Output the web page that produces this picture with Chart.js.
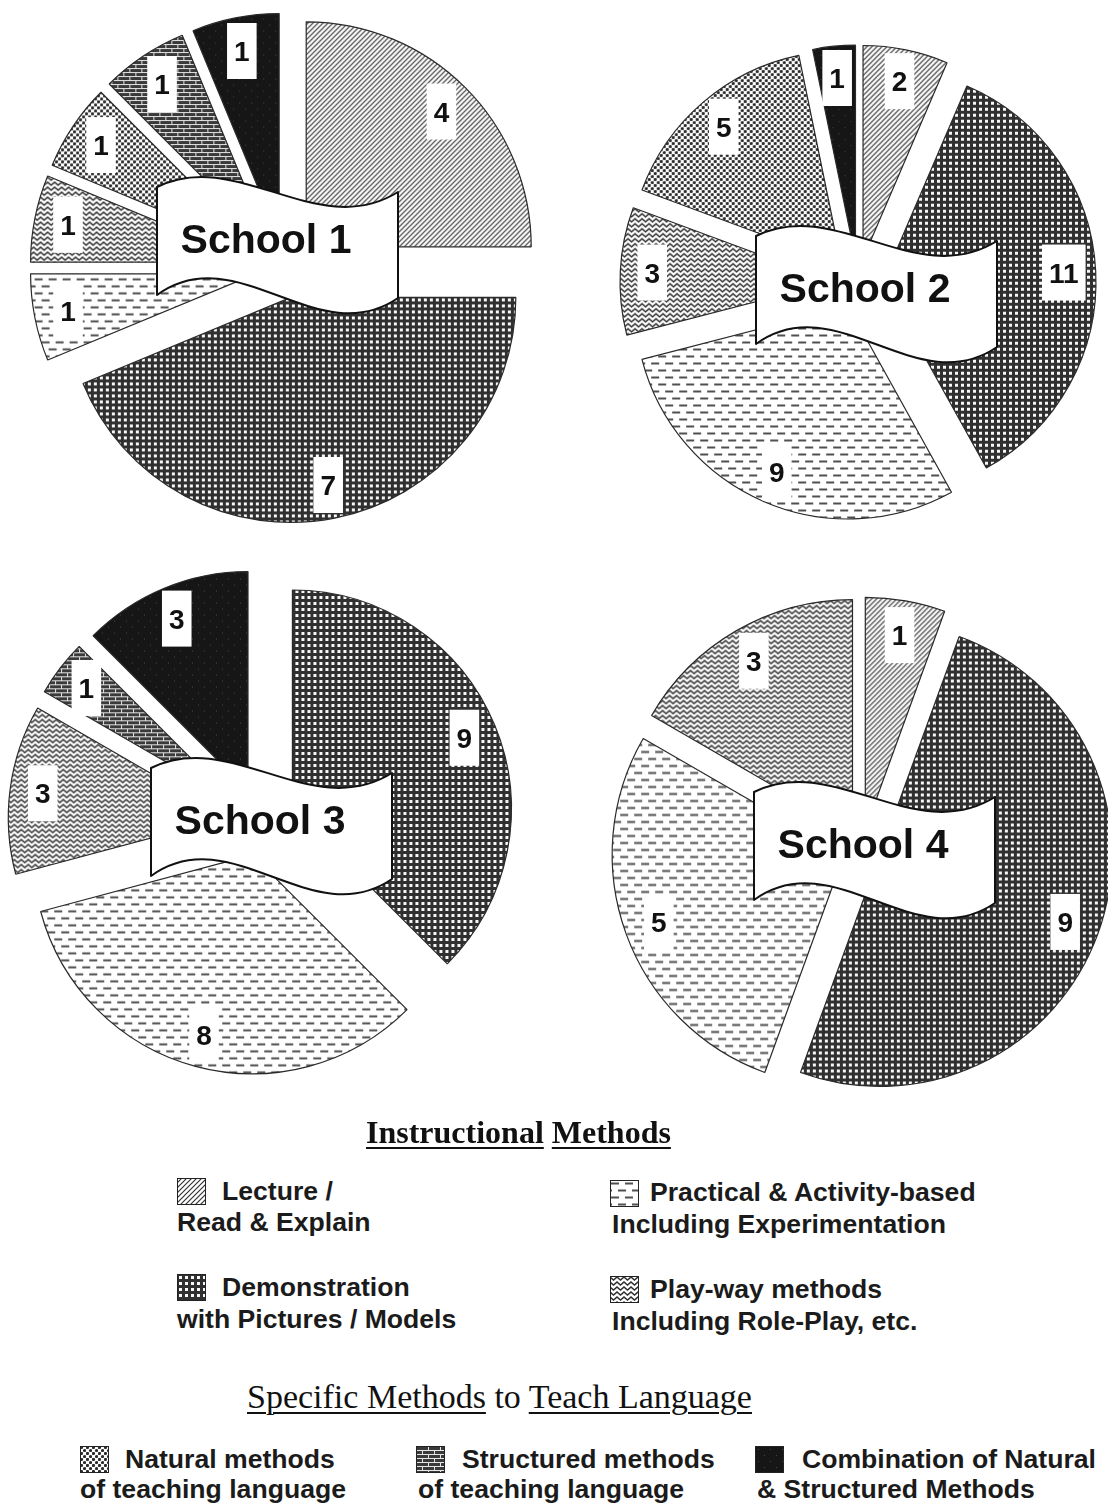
<!DOCTYPE html>
<html>
<head>
<meta charset="utf-8">
<title>Instructional Methods by School</title>
<script src="https://cdn.jsdelivr.net/npm/chart.js@4.4.1/dist/chart.umd.min.js"></script>
<style>
  html, body { margin: 0; padding: 0; background: #fff; }
  #page { position: relative; width: 1108px; height: 1505px; overflow: hidden; background: #fff; }
  canvas.pie { position: absolute; }
  .lg { position: absolute; white-space: nowrap; line-height: 26px; height: 26px;
        font-family: "Liberation Sans", Arial, sans-serif; font-weight: bold; font-size: 26.6px; color: #1b1b1b; }
  .sw { position: absolute; }
  .head { position: absolute; white-space: nowrap; font-family: "Liberation Serif", "Times New Roman", serif; color: #111; }
  .head u { text-decoration-thickness: 2px; text-underline-offset: 4px; }
</style>
</head>
<body>
<div id="page"></div>
<script>
// ---- data -------------------------------------------------------------
const methods = [
  'Lecture / Read & Explain',
  'Demonstration with Pictures / Models',
  'Practical & Activity-based Including Experimentation',
  'Play-way methods Including Role-Play, etc.',
  'Natural methods of teaching language',
  'Structured methods of teaching language',
  'Combination of Natural & Structured Methods'
];
const schools = ['School 1', 'School 2', 'School 3', 'School 4'];
const school1 = [4, 7, 1, 1, 1, 1, 1];
const school2 = [2, 11, 9, 3, 5, 0, 1];
const school3 = [0, 9, 8, 3, 0, 1, 3];
const school4 = [1, 9, 5, 3, 0, 0, 0];
const schoolValues = [school1, school2, school3, school4];

// ---- layout (page pixels) ---------------------------------------------
const pieLayout = [
  { cx: 285, cy: 268, r: 225, explode: 30, tx: 266, ty: 238 },
  { cx: 858, cy: 283, r: 213, explode: 25, tx: 865, ty: 287 },
  { cx: 261, cy: 822, r: 219, explode: 34, tx: 260, ty: 819 },
  { cx: 862, cy: 848, r: 232, explode: 19, tx: 863, ty: 843 }
];

// ---- fill patterns ----------------------------------------------------
function tile(w, h, paint) {
  const c = document.createElement('canvas');
  c.width = w; c.height = h;
  const g = c.getContext('2d');
  paint(g, w, h);
  return c;
}
const tiles = [
  // lecture: fine diagonal hatch
  tile(5, 5, (g, w, h) => {
    g.fillStyle = '#fff'; g.fillRect(0, 0, w, h);
    g.strokeStyle = '#333'; g.lineWidth = 1.2;
    g.beginPath();
    g.moveTo(-1, h + 1); g.lineTo(w + 1, -1);
    g.moveTo(-1, 1); g.lineTo(1, -1);
    g.moveTo(w - 1, h + 1); g.lineTo(w + 1, h - 1);
    g.stroke();
  }),
  // demonstration: dark grid with white cells
  tile(6, 6, (g, w, h) => {
    g.fillStyle = '#303030'; g.fillRect(0, 0, w, h);
    g.fillStyle = '#f8f8f8'; g.fillRect(2, 2, 3, 3);
  }),
  // practical: staggered horizontal dashes
  tile(14, 14, (g, w, h) => {
    g.fillStyle = '#fff'; g.fillRect(0, 0, w, h);
    g.strokeStyle = '#505050'; g.lineWidth = 2;
    g.beginPath();
    g.moveTo(1, 3.5); g.lineTo(9, 3.5);
    g.moveTo(8, 10.5); g.lineTo(16, 10.5);
    g.moveTo(-6, 10.5); g.lineTo(2, 10.5);
    g.stroke();
  }),
  // play-way: zigzag rows
  tile(7, 5, (g, w, h) => {
    g.fillStyle = '#fff'; g.fillRect(0, 0, w, h);
    g.strokeStyle = '#2e2e2e'; g.lineWidth = 1.35;
    g.beginPath();
    g.moveTo(-3.5, 4); g.lineTo(0, 1); g.lineTo(3.5, 4); g.lineTo(7, 1); g.lineTo(10.5, 4);
    g.stroke();
  }),
  // natural: stippled dots
  tile(6, 6, (g, w, h) => {
    g.fillStyle = '#fff'; g.fillRect(0, 0, w, h);
    g.fillStyle = '#2c2c2c';
    [[1.5, 1.5], [4.5, 4.5]].forEach(([x, y]) => {
      g.beginPath(); g.arc(x, y, 1.6, 0, Math.PI * 2); g.fill();
    });
  }),
  // structured: brick wall
  tile(12, 8, (g, w, h) => {
    g.fillStyle = '#3a3a3a'; g.fillRect(0, 0, w, h);
    g.strokeStyle = '#e6e6e6'; g.lineWidth = 1;
    g.beginPath();
    g.moveTo(0, 0.5); g.lineTo(w, 0.5);
    g.moveTo(0, 4.5); g.lineTo(w, 4.5);
    g.moveTo(0.5, 0.5); g.lineTo(0.5, 4.5);
    g.moveTo(6.5, 4.5); g.lineTo(6.5, 8);
    g.stroke();
  }),
  // combination: solid black with faint specks
  tile(12, 12, (g, w, h) => {
    g.fillStyle = '#161616'; g.fillRect(0, 0, w, h);
    g.fillStyle = '#464646';
    g.fillRect(3, 3, 1, 1); g.fillRect(9, 9, 1, 1);
  })
];
function patternsFor(ctx) {
  return tiles.map(t => ctx.createPattern(t, 'repeat'));
}

// ---- plugins ----------------------------------------------------------
// every slice is pulled out from the centre along its bisector
const explodePlugin = {
  id: 'explode',
  beforeDatasetDraw(chart, args, opts) {
    const ctx = chart.ctx;
    const d = opts.distance || 0;
    args.meta.data.forEach(arc => {
      if (!arc.circumference) return;
      const mid = (arc.startAngle + arc.endAngle) / 2;
      ctx.save();
      ctx.translate(Math.cos(mid) * d, Math.sin(mid) * d);
      arc.draw(ctx);
      ctx.restore();
    });
    return false;
  }
};

// white value boxes inside each slice
const valueLabelPlugin = {
  id: 'valueLabels',
  afterDatasetsDraw(chart, args, opts) {
    const ctx = chart.ctx;
    const meta = chart.getDatasetMeta(0);
    const values = chart.data.datasets[0].data;
    ctx.save();
    ctx.font = 'bold 28px "Liberation Sans", Arial, sans-serif';
    ctx.textAlign = 'center';
    ctx.textBaseline = 'alphabetic';
    meta.data.forEach((arc, i) => {
      const v = values[i];
      if (!v) return;
      const mid = (arc.startAngle + arc.endAngle) / 2;
      const rr = opts.distance + arc.outerRadius * opts.position;
      const x = arc.x + Math.cos(mid) * rr;
      const y = arc.y + Math.sin(mid) * rr;
      const text = String(v);
      const w = ctx.measureText(text).width + 14;
      const h = 56;
      ctx.fillStyle = '#fff';
      ctx.fillRect(x - w / 2, y - h / 2, w, h);
      ctx.fillStyle = '#111';
      ctx.fillText(text, x, y + 10);
    });
    ctx.restore();
  }
};

// wavy name banner across the middle of each pie
const bannerPlugin = {
  id: 'banner',
  afterDraw(chart, args, opts) {
    const ctx = chart.ctx;
    const tx = opts.x, ty = opts.y;
    const L = tx - 109, R = tx + 132, W = R - L;
    const T = ty - 51, B = ty + 57;
    ctx.save();
    ctx.beginPath();
    ctx.moveTo(L, T);
    ctx.bezierCurveTo(L + W / 3, T - 40, L + 2 * W / 3, T + 55, R, T + 5);
    ctx.lineTo(R, B + 3);
    ctx.bezierCurveTo(L + 2 * W / 3, B + 58, L + W / 3, B - 58, L, B);
    ctx.closePath();
    ctx.fillStyle = '#fff';
    ctx.fill();
    ctx.lineWidth = 2;
    ctx.strokeStyle = '#111';
    ctx.lineJoin = 'round';
    ctx.stroke();
    ctx.font = 'bold 41px "Liberation Sans", Arial, sans-serif';
    ctx.fillStyle = '#111';
    ctx.textAlign = 'center';
    ctx.textBaseline = 'alphabetic';
    ctx.fillText(opts.text, tx, ty + 15);
    ctx.restore();
  }
};

// ---- build the four pies ---------------------------------------------
const page = document.getElementById('page');
schoolValues.forEach((values, i) => {
  const lay = pieLayout[i];
  const size = 2 * Math.ceil(lay.r + lay.explode + 16);
  const canvas = document.createElement('canvas');
  canvas.className = 'pie';
  canvas.width = size; canvas.height = size;
  canvas.style.left = (lay.cx - size / 2) + 'px';
  canvas.style.top = (lay.cy - size / 2) + 'px';
  page.appendChild(canvas);
  const ctx = canvas.getContext('2d');
  new Chart(canvas, {
    type: 'pie',
    data: {
      labels: methods,
      datasets: [{
        data: values,
        backgroundColor: patternsFor(ctx),
        borderColor: '#2a2a2a',
        borderWidth: 1.2
      }]
    },
    options: {
      responsive: false,
      animation: false,
      events: [],
      radius: lay.r,
      layout: { padding: 0 },
      plugins: {
        legend: { display: false },
        tooltip: { enabled: false },
        explode: { distance: lay.explode },
        valueLabels: { distance: lay.explode, position: 0.85 },
        banner: { text: schools[i], x: lay.tx - lay.cx + size / 2, y: lay.ty - lay.cy + size / 2 }
      }
    },
    plugins: [explodePlugin, valueLabelPlugin, bannerPlugin]
  });
});

// ---- legend -----------------------------------------------------------
function addHead(html, left, top, size, bold) {
  const d = document.createElement('div');
  d.className = 'head';
  d.style.left = left + 'px';
  d.style.top = top + 'px';
  d.style.fontSize = size + 'px';
  d.style.fontWeight = bold ? 'bold' : 'normal';
  d.innerHTML = html;
  page.appendChild(d);
}
function addText(text, left, midY) {
  const d = document.createElement('div');
  d.className = 'lg';
  d.style.left = left + 'px';
  d.style.top = (midY - 13) + 'px';
  d.textContent = text;
  page.appendChild(d);
}
function addSwatch(k, left, top) {
  const c = document.createElement('canvas');
  c.className = 'sw';
  c.width = 29; c.height = 27;
  c.style.left = left + 'px';
  c.style.top = top + 'px';
  const g = c.getContext('2d');
  g.fillStyle = g.createPattern(tiles[k], 'repeat');
  g.fillRect(0, 0, 29, 27);
  g.strokeStyle = '#222';
  g.lineWidth = 1;
  g.strokeRect(0.5, 0.5, 28, 26);
  page.appendChild(c);
}

addHead('<u>Instructional</u> <u>Methods</u>', 366, 1114, 32, true);

const legendTop = [
  { k: 0, sx: 177, sy: 1178, lines: ['Lecture /', 'Read & Explain'], x1: 222, x2: 177, y1: 1191, y2: 1222 },
  { k: 2, sx: 610, sy: 1180, lines: ['Practical & Activity-based', 'Including Experimentation'], x1: 650, x2: 612, y1: 1192, y2: 1224 },
  { k: 1, sx: 177, sy: 1274, lines: ['Demonstration', 'with Pictures / Models'], x1: 222, x2: 177, y1: 1287, y2: 1319 },
  { k: 3, sx: 610, sy: 1276, lines: ['Play-way methods', 'Including Role-Play, etc.'], x1: 650, x2: 612, y1: 1289, y2: 1321 }
];
legendTop.forEach(e => {
  addSwatch(e.k, e.sx, e.sy);
  addText(e.lines[0], e.x1, e.y1);
  addText(e.lines[1], e.x2, e.y2);
});

addHead('<u>Specific Methods</u> to <u>Teach Language</u>', 247, 1378, 34, false);

const legendBottom = [
  { k: 4, sx: 80, sy: 1446, lines: ['Natural methods', 'of teaching language'], x1: 125, x2: 80 },
  { k: 5, sx: 416, sy: 1446, lines: ['Structured methods', 'of teaching language'], x1: 462, x2: 418 },
  { k: 6, sx: 755, sy: 1446, lines: ['Combination of Natural', '& Structured Methods'], x1: 802, x2: 757 }
];
legendBottom.forEach(e => {
  addSwatch(e.k, e.sx, e.sy);
  addText(e.lines[0], e.x1, 1459);
  addText(e.lines[1], e.x2, 1489);
});
</script>
</body>
</html>
